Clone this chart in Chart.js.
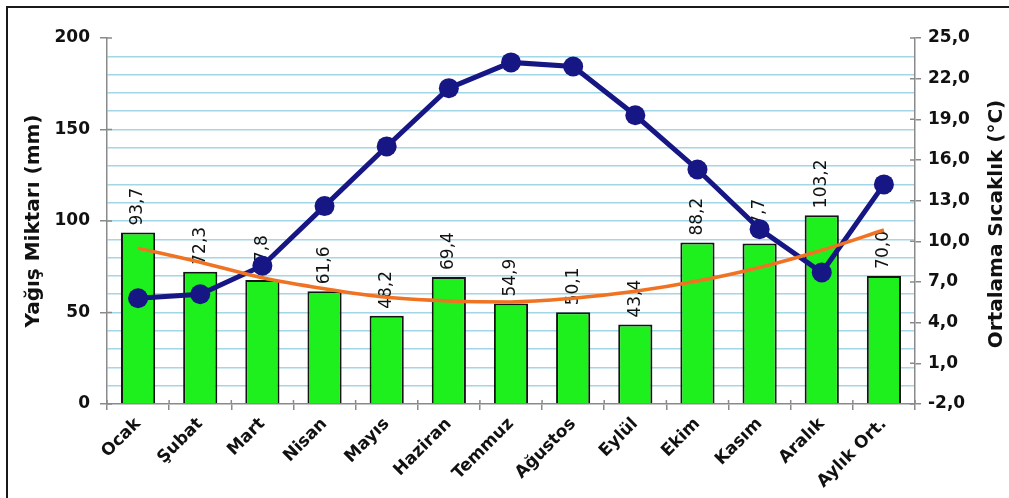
<!DOCTYPE html>
<html lang="tr">
<head>
<meta charset="utf-8">
<script src="https://cdn.jsdelivr.net/npm/chart.js@4"></script>
<style>
  html, body { margin: 0; padding: 0; background: #fff; overflow: hidden; }
  canvas { display: block; }
</style>
</head>
<body>
<canvas id="climate-chart" width="1009" height="498"></canvas>
<script>
// monthly rainfall (mm) and mean temperature (°C)
const months = ['Ocak', 'Şubat', 'Mart', 'Nisan', 'Mayıs', 'Haziran', 'Temmuz',
    'Ağustos', 'Eylül', 'Ekim', 'Kasım', 'Aralık', 'Aylık Ort.'];
const rainfall = [93.7, 72.3, 67.8, 61.6, 48.2, 69.4, 54.9, 50.1, 43.4, 88.2, 87.7, 103.2, 70.0];
const temperature = [5.8, 6.1, 8.2, 12.6, 17.0, 21.3, 23.2, 22.9, 19.3, 15.3, 10.9, 7.7, 14.2];
// rainfall trend curve (mm)
const rainTrend = [85.2, 77.5, 69.0, 63.0, 58.3, 56.3, 55.8, 57.8, 61.6, 67.2, 74.6, 84.0, 95.1];

const rainAxis = { min: 0, max: 200, step: 10, labelStep: 50 };
const tempAxis = { min: -2, max: 25, step: 3 };

const axisGrey = '#8a8a8a';
const textColor = '#111';

Chart.defaults.font.family = '"DejaVu Sans", "Liberation Sans", sans-serif';
Chart.defaults.color = textColor;

function commaNum(v) {
    return v.toFixed(1).replace('.', ',');
}

// white page with the dark frame along the top and left edges
const pageFrame = {
    id: 'pageFrame',
    beforeDraw(chart) {
        const ctx = chart.ctx;
        ctx.save();
        ctx.fillStyle = '#fff';
        ctx.fillRect(0, 0, chart.width, chart.height);
        ctx.strokeStyle = '#1a1a1a';
        ctx.lineWidth = 2;
        ctx.beginPath();
        ctx.moveTo(7, chart.height);
        ctx.lineTo(7, 7);
        ctx.lineTo(chart.width, 7);
        ctx.stroke();
        ctx.restore();
    }
};

// value labels standing upright above each bar (drawn before the lines)
const barLabels = {
    id: 'barLabels',
    afterDatasetDraw(chart, args) {
        if (args.index !== 0) return;
        const ctx = chart.ctx;
        ctx.save();
        ctx.font = '17px "DejaVu Sans", sans-serif';
        ctx.fillStyle = textColor;
        ctx.textAlign = 'left';
        ctx.textBaseline = 'middle';
        args.meta.data.forEach((bar, i) => {
            ctx.save();
            ctx.translate(bar.x, bar.y - 7);
            ctx.rotate(-Math.PI / 2);
            ctx.fillText(commaNum(rainfall[i]), 0, 0);
            ctx.restore();
        });
        ctx.restore();
    }
};

// inner halves of the axis tick marks + right axis title (reads bottom to top)
const axisExtras = {
    id: 'axisExtras',
    afterDraw(chart) {
        const ctx = chart.ctx;
        const { x, yRain, yTemp } = chart.scales;
        ctx.save();
        ctx.strokeStyle = axisGrey;
        ctx.lineWidth = 1.5;
        ctx.beginPath();
        yRain.ticks.forEach(t => {
            if (t.value % rainAxis.labelStep !== 0) return;
            const py = yRain.getPixelForValue(t.value);
            ctx.moveTo(yRain.right, py);
            ctx.lineTo(yRain.right + 5, py);
        });
        yTemp.ticks.forEach(t => {
            const py = yTemp.getPixelForValue(t.value);
            ctx.moveTo(yTemp.left - 5, py);
            ctx.lineTo(yTemp.left, py);
        });
        for (let i = 0; i <= months.length; i++) {
            const px = x.getPixelForValue(i - 0.5);
            ctx.moveTo(px, x.top - 4);
            ctx.lineTo(px, x.top);
        }
        ctx.stroke();

        ctx.font = 'bold 20px "DejaVu Sans", sans-serif';
        ctx.fillStyle = textColor;
        ctx.textAlign = 'center';
        ctx.textBaseline = 'middle';
        ctx.translate(yTemp.right - 12, (yTemp.top + yTemp.bottom) / 2 + 3);
        ctx.rotate(-Math.PI / 2);
        ctx.fillText('Ortalama Sıcaklık (°C)', 0, 0);
        ctx.restore();
    }
};

const config = {
    type: 'bar',
    data: {
        labels: months,
        datasets: [{
            type: 'bar',
            label: 'Yağış',
            data: rainfall,
            yAxisID: 'yRain',
            backgroundColor: '#1ef01e',
            borderColor: '#141414',
            borderWidth: 2,
            barPercentage: 0.55,
            categoryPercentage: 1,
            order: 2
        }, {
            type: 'line',
            label: 'Sıcaklık',
            data: temperature,
            yAxisID: 'yTemp',
            borderColor: '#161684',
            backgroundColor: '#161684',
            borderWidth: 5,
            pointRadius: 10,
            pointBorderWidth: 0,
            tension: 0,
            order: 1
        }, {
            type: 'line',
            label: 'Yağış eğilimi',
            data: rainTrend,
            yAxisID: 'yRain',
            borderColor: '#ef7322',
            borderWidth: 3.5,
            pointRadius: 0,
            cubicInterpolationMode: 'monotone',
            order: 0
        }]
    },
    options: {
        responsive: false,
        animation: false,
        layout: { padding: { top: 38, left: 0, right: 0, bottom: 0 } },
        plugins: {
            legend: { display: false },
            tooltip: { enabled: false }
        },
        scales: {
            x: {
                offset: true,
                grid: {
                    offset: true,
                    drawOnChartArea: false,
                    tickLength: 6,
                    tickColor: axisGrey,
                    lineWidth: 1.5
                },
                border: { color: axisGrey, width: 1.5 },
                ticks: {
                    minRotation: 45,
                    maxRotation: 45,
                    padding: 4,
                    autoSkip: false,
                    color: textColor,
                    font: { size: 17, weight: 'bold' }
                },
                afterFit(scale) { scale.height = 94; }
            },
            yRain: {
                position: 'left',
                min: rainAxis.min,
                max: rainAxis.max,
                grid: {
                    color: ctx => (ctx.tick.value === rainAxis.min || ctx.tick.value === rainAxis.max)
                        ? 'rgba(0,0,0,0)' : '#a3d6e6',
                    lineWidth: 1.5,
                    tickLength: 7,
                    tickColor: ctx => ctx.tick.value % rainAxis.labelStep === 0 ? axisGrey : 'rgba(0,0,0,0)'
                },
                border: { color: axisGrey, width: 1.5 },
                ticks: {
                    stepSize: rainAxis.step,
                    autoSkip: false,
                    padding: 10,
                    color: textColor,
                    font: { size: 17, weight: 'bold' },
                    callback: v => v % rainAxis.labelStep === 0 ? String(v) : ''
                },
                title: {
                    display: true,
                    text: 'Yağış Miktarı (mm)',
                    color: textColor,
                    font: { size: 20, weight: 'bold' },
                    padding: { top: 22, bottom: 0 }
                },
                afterFit(scale) { scale.width = 107; }
            },
            yTemp: {
                position: 'right',
                min: tempAxis.min,
                max: tempAxis.max,
                grid: {
                    drawOnChartArea: false,
                    tickLength: 6,
                    tickColor: axisGrey,
                    lineWidth: 1.5
                },
                border: { color: axisGrey, width: 1.5 },
                ticks: {
                    stepSize: tempAxis.step,
                    autoSkip: false,
                    padding: 7,
                    color: textColor,
                    font: { size: 17, weight: 'bold' },
                    callback: v => commaNum(v)
                },
                afterFit(scale) { scale.width = 94; }
            }
        }
    },
    plugins: [pageFrame, barLabels, axisExtras]
};

new Chart(document.getElementById('climate-chart'), config);
</script>
</body>
</html>
